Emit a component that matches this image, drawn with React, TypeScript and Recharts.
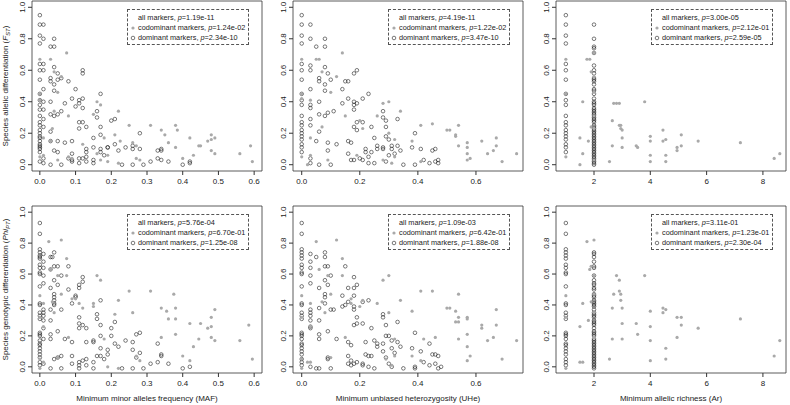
import React from "react";
import {
  ScatterChart,
  Scatter,
  XAxis,
  YAxis,
  ReferenceArea,
} from "recharts";

// each entry: [x, [y values at that x]]
type Group = [number, number[]];

const mafFstDominant: Group[] = [
  [0, [0.95, 0.89, 0.82, 0.77, 0.64, 0.6, 0.54, 0.45, 0.41, 0.38, 0.35, 0.31, 0.27, 0.25, 0.22, 0.2, 0.18, 0.17, 0.15, 0.13, 0.12, 0.11, 0.1, 0.08, 0.02]],
  [0.01, [0.89, 0.8, 0.64, 0.6, 0.48, 0.4, 0.35, 0.29, 0.24, 0.04, 0.01]],
  [0.03, [0.75, 0.55, 0.53, 0.4, 0.32, 0.21, 0.15, 0.0]],
  [0.04, [0.8, 0.75, 0.62, 0.51, 0.47, 0.31, 0.09]],
  [0.05, [0.58, 0.54, 0.32, 0.15, 0.08]],
  [0.06, [0.55, 0.34, 0.0]],
  [0.07, [0.39, 0.14]],
  [0.08, [0.53, 0.04]],
  [0.09, [0.42, 0.15, 0.07, 0.03, 0.02]],
  [0.1, [0.48, 0.37]],
  [0.11, [0.41, 0.39, 0.27, 0.23, 0.04, 0.01]],
  [0.12, [0.6, 0.58, 0.42, 0.36, 0.27, 0.04]],
  [0.13, [0.24, 0.1, 0.08, 0.05, 0.02]],
  [0.15, [0.17, 0.11, 0.03, 0.01]],
  [0.16, [0.34, 0.3]],
  [0.17, [0.45, 0.24, 0.19, 0.1, 0.08]],
  [0.18, [0.06]],
  [0.19, [0.11, 0.11]],
  [0.2, [0.28]],
  [0.21, [0.29, 0.13]],
  [0.22, [0.09]],
  [0.23, [0.0]],
  [0.24, [0.11]],
  [0.26, [0.12, 0.1, 0.0]],
  [0.28, [0.2, 0.1]],
  [0.29, [0.0]],
  [0.31, [0.02]],
  [0.33, [0.09, 0.04]],
  [0.34, [0.1, 0.09, 0.03]],
  [0.36, [0.02]],
  [0.4, [0.0]],
  [0.42, [0.02, 0.01]],
];

const mafFstCodominant: Group[] = [
  [0, [0.67, 0.45, 0.41, 0.05]],
  [0.01, [0.17, 0.06]],
  [0.03, [0.67, 0.15]],
  [0.035, [0.23]],
  [0.04, [0.59, 0.34]],
  [0.05, [0.46, 0.03]],
  [0.06, [0.56]],
  [0.075, [0.71]],
  [0.08, [0.31, 0.05]],
  [0.09, [0.04]],
  [0.12, [0.13]],
  [0.15, [0.32]],
  [0.16, [0.4, 0.07]],
  [0.17, [0.38, 0.03]],
  [0.18, [0.17]],
  [0.19, [0.06, 0.02]],
  [0.21, [0.19]],
  [0.22, [0.34, 0.01]],
  [0.225, [0.15]],
  [0.25, [0.25]],
  [0.26, [0.14]],
  [0.27, [0.12, 0.04]],
  [0.28, [0.03]],
  [0.31, [0.25]],
  [0.34, [0.22]],
  [0.35, [0.19]],
  [0.36, [0.14]],
  [0.38, [0.25, 0.11]],
  [0.385, [0.22]],
  [0.4, [0.04]],
  [0.42, [0.17]],
  [0.43, [0.06]],
  [0.445, [0.12]],
  [0.45, [0.12]],
  [0.47, [0.15]],
  [0.48, [0.19, 0.16, 0.09]],
  [0.49, [0.17, 0.07]],
  [0.56, [0.07]],
  [0.59, [0.12]],
  [0.595, [0.02]],
];

const uheFstDominant: Group[] = [
  [0, [0.95, 0.89, 0.82, 0.77, 0.64, 0.6, 0.54, 0.45, 0.41, 0.38, 0.31, 0.27, 0.25, 0.22, 0.2, 0.18, 0.16, 0.13, 0.11, 0.08]],
  [0.03, [0.89, 0.8, 0.63, 0.6, 0.48, 0.38, 0.36, 0.29, 0.25, 0.04, 0.01]],
  [0.05, [0.75, 0.15]],
  [0.06, [0.55, 0.53, 0.4, 0.32, 0.21, 0.0]],
  [0.08, [0.8, 0.75, 0.62, 0.51, 0.47, 0.31]],
  [0.09, [0.58, 0.33, 0.14, 0.09]],
  [0.1, [0.54, 0.0]],
  [0.11, [0.34]],
  [0.12, [0.13]],
  [0.14, [0.48, 0.39]],
  [0.15, [0.53]],
  [0.16, [0.53, 0.42, 0.15, 0.07]],
  [0.17, [0.14, 0.03]],
  [0.18, [0.58, 0.4, 0.38, 0.35, 0.24, 0.03]],
  [0.19, [0.6, 0.39, 0.27, 0.22]],
  [0.2, [0.04]],
  [0.21, [0.42, 0.27, 0.03]],
  [0.22, [0.1, 0.08]],
  [0.23, [0.45, 0.05, 0.01]],
  [0.24, [0.24, 0.08]],
  [0.25, [0.17, 0.01]],
  [0.26, [0.12, 0.1]],
  [0.28, [0.34, 0.3, 0.11, 0.1]],
  [0.29, [0.28, 0.24, 0.18, 0.02]],
  [0.3, [0.16, 0.06]],
  [0.31, [0.12, 0.1]],
  [0.32, [0.07]],
  [0.33, [0.29, 0.12]],
  [0.34, [0.09]],
  [0.35, [0.0]],
  [0.38, [0.11]],
  [0.39, [0.2, 0.0]],
  [0.41, [0.1]],
  [0.42, [0.03]],
  [0.44, [0.01]],
  [0.45, [0.09]],
  [0.46, [0.1, 0.02]],
  [0.47, [0.03, 0.01]],
];

const uheFstCodominant: Group[] = [
  [0, [0.67, 0.45, 0.42, 0.05]],
  [0.02, [0.0]],
  [0.03, [0.41, 0.17, 0.06]],
  [0.05, [0.67]],
  [0.06, [0.67]],
  [0.07, [0.59, 0.24]],
  [0.09, [0.03]],
  [0.1, [0.46]],
  [0.12, [0.56]],
  [0.14, [0.71]],
  [0.15, [0.31]],
  [0.19, [0.06]],
  [0.2, [0.28]],
  [0.21, [0.23]],
  [0.26, [0.31]],
  [0.28, [0.39, 0.03]],
  [0.3, [0.4, 0.2]],
  [0.31, [0.01]],
  [0.32, [0.16, 0.05]],
  [0.34, [0.34]],
  [0.38, [0.15]],
  [0.41, [0.25, 0.02]],
  [0.45, [0.26]],
  [0.5, [0.22]],
  [0.51, [0.22]],
  [0.53, [0.18, 0.19]],
  [0.54, [0.25, 0.12]],
  [0.57, [0.14, 0.11, 0.07, 0.03]],
  [0.58, [0.04]],
  [0.62, [0.15]],
  [0.64, [0.07]],
  [0.66, [0.09]],
  [0.67, [0.17, 0.12]],
  [0.69, [0.02]],
  [0.74, [0.07]],
];

const arFstDominant: Group[] = [
  [1, [0.95, 0.89, 0.82, 0.77, 0.64, 0.6, 0.54, 0.45, 0.41, 0.38, 0.31, 0.27, 0.25, 0.22, 0.2, 0.18, 0.16, 0.13, 0.11, 0.08]],
  [2, [0.89, 0.8, 0.75, 0.74, 0.71, 0.63, 0.6, 0.58, 0.55, 0.54, 0.53, 0.51, 0.48, 0.47, 0.45, 0.42, 0.4, 0.39, 0.38, 0.36, 0.35, 0.34, 0.33, 0.32, 0.31, 0.3, 0.29, 0.28, 0.27, 0.25, 0.24, 0.23, 0.22, 0.21, 0.2, 0.19, 0.18, 0.17, 0.16, 0.15, 0.14, 0.13, 0.12, 0.11, 0.1, 0.09, 0.08, 0.07, 0.06, 0.05, 0.04, 0.03, 0.02, 0.01, 0.0]],
];

const arFstCodominant: Group[] = [
  [1, [0.67, 0.45, 0.05]],
  [1.5, [0.17, 0.0]],
  [1.6, [0.4, 0.07]],
  [1.75, [0.67]],
  [1.8, [0.15]],
  [1.85, [0.67]],
  [1.9, [0.59, 0.24]],
  [2, [0.71, 0.56, 0.46, 0.31, 0.23, 0.03]],
  [2.55, [0.02]],
  [2.65, [0.28, 0.12]],
  [2.7, [0.39]],
  [2.8, [0.39]],
  [2.9, [0.39, 0.25]],
  [2.95, [0.25, 0.23]],
  [3.0, [0.22, 0.17, 0.11]],
  [3.5, [0.12]],
  [3.55, [0.11]],
  [3.8, [0.4]],
  [4.0, [0.18, 0.15, 0.06, 0.02]],
  [4.45, [0.22, 0.15]],
  [4.55, [0.16, 0.06, 0.02]],
  [4.95, [0.11, 0.09]],
  [5.1, [0.19, 0.12]],
  [5.7, [0.15]],
  [7.2, [0.14]],
  [8.4, [0.04]],
  [8.6, [0.07]],
];

const mafPhiDominant: Group[] = [
  [0, [0.93, 0.86, 0.76, 0.74, 0.72, 0.71, 0.7, 0.66, 0.64, 0.61, 0.6, 0.52, 0.41, 0.4, 0.35, 0.33, 0.31, 0.22, 0.21, 0.2, 0.17, 0.15, 0.14, 0.12, 0.1, 0.08, 0.06, 0.03, 0.01]],
  [0.01, [0.73, 0.68, 0.64, 0.59, 0.54, 0.37, 0.35, 0.33, 0.3, 0.25, 0.18, 0.02]],
  [0.03, [0.71, 0.63, 0.51, 0.37, 0.3, 0.21, 0.18, -0.01]],
  [0.035, [0.71]],
  [0.04, [0.74, 0.65, 0.56, 0.47, 0.45, 0.43, 0.41, 0.4, 0.05]],
  [0.05, [0.65, 0.53, 0.23, 0.06]],
  [0.06, [0.59, 0.37, 0.07, -0.01]],
  [0.07, [0.18]],
  [0.08, [0.65, 0.5]],
  [0.09, [0.41, 0.16, 0.07, 0.02]],
  [0.1, [0.46, 0.45]],
  [0.11, [0.53, 0.51, 0.32, 0.28, 0.25, 0.03, 0.01, -0.01]],
  [0.12, [0.58, 0.55, 0.27, 0.04]],
  [0.13, [0.25, 0.16, 0.05, 0.01]],
  [0.15, [0.17, 0.16, 0.03, -0.01]],
  [0.16, [0.34, 0.31, 0.07]],
  [0.17, [0.43, 0.27, 0.2, 0.12, 0.07]],
  [0.18, [0.05]],
  [0.19, [0.11, 0.08]],
  [0.2, [0.25, 0.2]],
  [0.21, [0.29, 0.15]],
  [0.22, [0.13]],
  [0.23, [-0.01]],
  [0.24, [0.17]],
  [0.26, [0.16, 0.11, -0.01]],
  [0.27, [0.21, 0.06]],
  [0.28, [0.22, 0.09]],
  [0.29, [-0.01]],
  [0.31, [0.02]],
  [0.33, [0.15, 0.03]],
  [0.34, [0.08, 0.07]],
  [0.36, [0.02]],
  [0.4, [-0.01]],
  [0.42, [0.0]],
];

const mafPhiCodominant: Group[] = [
  [0, [0.46, 0.32, 0.05, -0.01]],
  [0.01, [0.41, 0.26, 0.03]],
  [0.025, [0.81]],
  [0.03, [0.63]],
  [0.035, [0.42]],
  [0.04, [0.35]],
  [0.05, [0.59, 0.06]],
  [0.06, [0.82, 0.47]],
  [0.075, [0.7, 0.59]],
  [0.08, [0.19]],
  [0.09, [0.44]],
  [0.1, [0.44]],
  [0.11, [0.41]],
  [0.12, [0.38]],
  [0.15, [0.41, 0.39]],
  [0.16, [0.59]],
  [0.17, [0.56]],
  [0.18, [0.18]],
  [0.19, [0.0]],
  [0.21, [0.34]],
  [0.22, [0.43, -0.01]],
  [0.25, [0.49]],
  [0.26, [0.35]],
  [0.27, [0.07]],
  [0.28, [0.04]],
  [0.31, [0.49]],
  [0.34, [0.38, 0.19]],
  [0.355, [0.36]],
  [0.36, [0.31]],
  [0.375, [0.47]],
  [0.38, [0.38, 0.31, 0.21]],
  [0.4, [0.07]],
  [0.42, [0.28, 0.04]],
  [0.43, [0.13]],
  [0.445, [0.18]],
  [0.45, [0.28]],
  [0.47, [0.25]],
  [0.48, [0.32, 0.26, 0.19]],
  [0.49, [0.37, 0.17]],
  [0.56, [0.17]],
  [0.585, [0.27]],
  [0.595, [0.05]],
];

const uhePhiDominant: Group[] = [
  [0, [0.93, 0.86, 0.76, 0.74, 0.72, 0.7, 0.66, 0.64, 0.61, 0.6, 0.52, 0.41, 0.4, 0.35, 0.33, 0.31, 0.22, 0.21, 0.2, 0.18, 0.15, 0.14, 0.12, 0.1, 0.08, 0.05, 0.03, 0.01]],
  [0.03, [0.73, 0.68, 0.64, 0.59, 0.54, 0.37, 0.35, 0.33, 0.3, 0.26, 0.25, 0.0]],
  [0.05, [0.71, -0.01]],
  [0.06, [0.51, 0.38, 0.3, 0.21, 0.18, -0.01]],
  [0.08, [0.74, 0.71, 0.65, 0.56, 0.47, 0.45, 0.41]],
  [0.09, [0.65, 0.53, 0.23, 0.05, 0.06]],
  [0.1, [0.59, 0.37, -0.01]],
  [0.11, [0.37]],
  [0.12, [0.18]],
  [0.14, [0.46, 0.39]],
  [0.15, [0.65, 0.4]],
  [0.16, [0.51, 0.42, 0.16, 0.07, 0.02]],
  [0.17, [0.14, 0.04, 0.01]],
  [0.18, [0.58, 0.51, 0.46, 0.39, 0.37, 0.27, 0.02]],
  [0.19, [0.53, 0.32, 0.28, 0.03]],
  [0.21, [0.42, 0.28, 0.02, 0.01]],
  [0.22, [0.16, 0.08]],
  [0.23, [0.43, 0.07, 0.0]],
  [0.24, [0.25, 0.07]],
  [0.25, [0.17, -0.01]],
  [0.26, [0.15, 0.13]],
  [0.28, [0.34, 0.32, 0.15, 0.1]],
  [0.29, [0.27, 0.2, 0.06]],
  [0.3, [0.2, 0.02]],
  [0.31, [0.17, 0.12, 0.0]],
  [0.32, [0.09]],
  [0.33, [0.29, 0.16]],
  [0.34, [0.13]],
  [0.35, [-0.01]],
  [0.38, [0.12]],
  [0.39, [0.22, 0.0, -0.01]],
  [0.41, [0.1]],
  [0.42, [0.03]],
  [0.44, [0.15, 0.01]],
  [0.45, [0.08]],
  [0.46, [0.08, 0.02]],
  [0.47, [0.07, -0.01]],
  [0.48, [0.0]],
];

const uhePhiCodominant: Group[] = [
  [0, [0.46, 0.32, 0.05, -0.01]],
  [0.02, [0.03]],
  [0.03, [0.41, 0.26, 0.03]],
  [0.05, [0.81]],
  [0.06, [0.63]],
  [0.07, [0.42]],
  [0.08, [0.35]],
  [0.09, [0.59]],
  [0.1, [0.47, 0.06]],
  [0.12, [0.82]],
  [0.14, [0.7, 0.59]],
  [0.15, [0.19]],
  [0.17, [0.44, 0.41]],
  [0.2, [0.39]],
  [0.21, [0.43]],
  [0.26, [0.41]],
  [0.28, [0.56]],
  [0.29, [0.05]],
  [0.3, [0.59, 0.35]],
  [0.31, [0.01]],
  [0.32, [0.18, 0.07]],
  [0.34, [0.43]],
  [0.38, [0.36, 0.07]],
  [0.41, [0.49, 0.04]],
  [0.42, [0.18]],
  [0.45, [0.49]],
  [0.46, [0.19]],
  [0.5, [0.38]],
  [0.51, [0.38]],
  [0.53, [0.36, 0.29]],
  [0.54, [0.47, 0.32, 0.29, 0.18]],
  [0.57, [0.32, 0.31, 0.21, 0.13, 0.04]],
  [0.58, [0.07]],
  [0.62, [0.27, 0.25]],
  [0.64, [0.17]],
  [0.66, [0.19]],
  [0.67, [0.37, 0.27]],
  [0.69, [0.05]],
  [0.74, [0.17]],
];

const arPhiDominant: Group[] = [
  [1, [0.93, 0.86, 0.76, 0.74, 0.72, 0.7, 0.66, 0.64, 0.61, 0.6, 0.52, 0.41, 0.4, 0.35, 0.33, 0.31, 0.22, 0.21, 0.2, 0.18, 0.15, 0.14, 0.12, 0.1, 0.08, 0.05, 0.03, 0.01]],
  [2, [0.74, 0.73, 0.71, 0.68, 0.65, 0.64, 0.59, 0.56, 0.54, 0.53, 0.51, 0.5, 0.47, 0.46, 0.45, 0.43, 0.42, 0.41, 0.4, 0.39, 0.37, 0.35, 0.34, 0.33, 0.32, 0.3, 0.29, 0.28, 0.27, 0.25, 0.23, 0.22, 0.21, 0.2, 0.18, 0.17, 0.16, 0.15, 0.14, 0.13, 0.12, 0.11, 0.1, 0.09, 0.08, 0.07, 0.06, 0.05, 0.04, 0.03, 0.02, 0.01, 0.0, -0.01]],
];

const arPhiCodominant: Group[] = [
  [1, [0.46, 0.32, -0.01]],
  [1.5, [0.26, 0.03]],
  [1.6, [0.41, 0.03]],
  [1.75, [0.81]],
  [1.8, [0.3]],
  [1.85, [0.63]],
  [1.9, [0.65, 0.42]],
  [2, [0.82, 0.59, 0.47, 0.35, 0.19]],
  [2.55, [0.05]],
  [2.65, [0.38, 0.18]],
  [2.7, [0.47]],
  [2.8, [0.59]],
  [2.9, [0.56, 0.49]],
  [2.95, [0.47, 0.43]],
  [3.0, [0.38, 0.28, 0.18]],
  [3.5, [0.28]],
  [3.55, [0.21]],
  [3.8, [0.59]],
  [4.0, [0.36, 0.26, 0.17, 0.04]],
  [4.45, [0.38, 0.35]],
  [4.55, [0.37, 0.12, 0.05]],
  [4.95, [0.32, 0.19]],
  [5.1, [0.32, 0.27]],
  [5.7, [0.25]],
  [7.2, [0.31]],
  [8.4, [0.07]],
  [8.6, [0.17]],
];

const pAll = ["1.19e-11", "4.19e-11", "3.00e-05", "5.76e-04", "1.09e-03", "3.11e-01"];
const pCodominant = ["1.24e-02", "1.22e-02", "2.12e-01", "6.70e-01", "6.42e-01", "1.23e-01"];
const pDominant = ["2.34e-10", "3.47e-10", "2.59e-05", "1.25e-08", "1.88e-08", "2.30e-04"];

const yTicks = [0, 0.2, 0.4, 0.6, 0.8, 1.0];
const mafTicks = [0, 0.1, 0.2, 0.3, 0.4, 0.5, 0.6];
const uheTicks = [0, 0.2, 0.4, 0.6];
const arTicks = [2, 4, 6, 8];

const FONT = '"Liberation Sans", Arial, Helvetica, sans-serif';
const INK = "#222";
const GRAY = "#a9a9a9";

const expand = (groups: Group[]) =>
  groups.flatMap(([x, ys]) => ys.map((y) => ({ x, y })));

const OpenDot = (props: any) => (
  <circle cx={props.cx} cy={props.cy} r={1.8} fill="none" stroke={INK} strokeWidth={0.6} />
);
const GrayDot = (props: any) => (
  <circle cx={props.cx} cy={props.cy} r={1.6} fill={GRAY} />
);

const YTick = (props: any) => {
  const { x, y, payload } = props;
  return (
    <text
      transform={`translate(${x - 1},${y}) rotate(-90)`}
      textAnchor="middle"
      fontSize={8}
      fill={INK}
    >
      {Number(payload.value).toFixed(1)}
    </text>
  );
};

function yTitle(kind: "fst" | "phi") {
  return (props: any) => {
    const vb = props.viewBox;
    const cx = vb.x + 8;
    const cy = vb.y + vb.height / 2;
    return (
      <text transform={`translate(${cx},${cy}) rotate(-90)`} textAnchor="middle" fontSize={8} fill={INK}>
        {kind === "fst" ? "Species allelic differentiation (" : "Species genotypic differentiation ("}
        <tspan fontStyle="italic">{kind === "fst" ? "F" : "Phi"}</tspan>
        <tspan fontStyle="italic" fontSize={6} dy={2}>
          {kind === "fst" ? "ST" : "PT"}
        </tspan>
        <tspan dy={-2}>)</tspan>
      </text>
    );
  };
}

function xTitle(text: string) {
  return (props: any) => {
    const vb = props.viewBox;
    return (
      <text x={vb.x + vb.width / 2} y={vb.y + vb.height - 4} textAnchor="middle" fontSize={8} fill={INK}>
        {text}
      </text>
    );
  };
}

const LegendBox = ({ idx, top }: { idx: number; top: number }) => (
  <div
    style={{
      position: "absolute",
      right: 14,
      top,
      width: 122,
      height: 36,
      boxSizing: "border-box",
      border: "1px dashed #555",
      fontSize: 7.3,
      lineHeight: "10px",
      color: INK,
      paddingTop: 3,
      background: "#fff",
    }}
  >
    {[
      { label: "all markers", p: pAll[idx], mark: null },
      { label: "codominant markers", p: pCodominant[idx], mark: "cod" },
      { label: "dominant markers", p: pDominant[idx], mark: "dom" },
    ].map((row) => (
      <div key={row.label} style={{ display: "flex", alignItems: "center", height: 10, whiteSpace: "nowrap" }}>
        <svg width={10} height={10} style={{ flex: "none" }}>
          {row.mark === "cod" && <circle cx={5} cy={5} r={1.6} fill={GRAY} />}
          {row.mark === "dom" && <circle cx={5} cy={5} r={1.8} fill="none" stroke={INK} strokeWidth={0.6} />}
        </svg>
        <span>
          {row.label}, <i>p</i>={row.p}
        </span>
      </div>
    ))}
  </div>
);

interface PanelProps {
  idx: number;
  left: number;
  top: number;
  marginTop: number;
  xAxisHeight: number;
  xDomain: [number, number];
  xTicks: number[];
  xDigits: number;
  dominant: Group[];
  codominant: Group[];
  yKind?: "fst" | "phi";
  xLabel?: string;
}

const W = 263;
const H = 202;

function Panel(p: PanelProps) {
  const yDomain: [number, number] = [-0.04, 1.04];
  return (
    <div style={{ position: "absolute", left: p.left, top: p.top, width: W, height: H }}>
      <ScatterChart width={W} height={H} margin={{ top: p.marginTop, right: 1, bottom: 0, left: 0 }}>
        <XAxis
          type="number"
          dataKey="x"
          domain={p.xDomain}
          ticks={p.xTicks}
          interval={0}
          allowDataOverflow
          height={p.xAxisHeight}
          axisLine={false}
          tickSize={4}
          tickMargin={3}
          tickLine={{ stroke: "#333" }}
          tick={{ fontSize: 8, fill: INK }}
          tickFormatter={(v: number) => v.toFixed(p.xDigits)}
          label={p.xLabel ? { content: xTitle(p.xLabel) } : undefined}
        />
        <YAxis
          type="number"
          dataKey="y"
          domain={yDomain}
          ticks={yTicks}
          interval={0}
          allowDataOverflow
          width={32}
          axisLine={false}
          tickSize={4}
          tickLine={{ stroke: "#333" }}
          tick={<YTick />}
          label={p.yKind ? { content: yTitle(p.yKind) } : undefined}
        />
        <ReferenceArea
          x1={p.xDomain[0]}
          x2={p.xDomain[1]}
          y1={yDomain[0]}
          y2={yDomain[1]}
          fill="none"
          stroke="#333"
          strokeWidth={0.8}
          ifOverflow="visible"
        />
        <Scatter data={expand(p.dominant)} shape={OpenDot} isAnimationActive={false} />
        <Scatter data={expand(p.codominant)} shape={GrayDot} isAnimationActive={false} />
      </ScatterChart>
      <LegendBox idx={p.idx} top={p.marginTop + 8} />
    </div>
  );
}

export default function App() {
  const cols = [
    { left: 0, xDomain: [-0.022, 0.622] as [number, number], xTicks: mafTicks, xDigits: 1, xLabel: "Minimum minor alleles frequency (MAF)" },
    { left: 261, xDomain: [-0.03, 0.762] as [number, number], xTicks: uheTicks, xDigits: 1, xLabel: "Minimum unbiased heterozygosity (UHe)" },
    { left: 524, xDomain: [0.65, 8.82] as [number, number], xTicks: arTicks, xDigits: 0, xLabel: "Minimum allelic richness (Ar)" },
  ];
  const top = [mafFstDominant, uheFstDominant, arFstDominant];
  const topC = [mafFstCodominant, uheFstCodominant, arFstCodominant];
  const bot = [mafPhiDominant, uhePhiDominant, arPhiDominant];
  const botC = [mafPhiCodominant, uhePhiCodominant, arPhiCodominant];
  return (
    <div
      style={{
        position: "absolute",
        left: 0,
        top: 0,
        width: 790,
        height: 405,
        background: "#fff",
        fontFamily: FONT,
        overflow: "hidden",
      }}
    >
      {cols.map((c, i) => (
        <Panel
          key={`t${i}`}
          idx={i}
          left={c.left}
          top={0}
          marginTop={1}
          xAxisHeight={31}
          xDomain={c.xDomain}
          xTicks={c.xTicks}
          xDigits={c.xDigits}
          dominant={top[i]}
          codominant={topC[i]}
          yKind={i === 0 ? "fst" : undefined}
        />
      ))}
      {cols.map((c, i) => (
        <Panel
          key={`b${i}`}
          idx={i + 3}
          left={c.left}
          top={203}
          marginTop={3}
          xAxisHeight={32}
          xDomain={c.xDomain}
          xTicks={c.xTicks}
          xDigits={c.xDigits}
          dominant={bot[i]}
          codominant={botC[i]}
          yKind={i === 0 ? "phi" : undefined}
          xLabel={c.xLabel}
        />
      ))}
    </div>
  );
}
